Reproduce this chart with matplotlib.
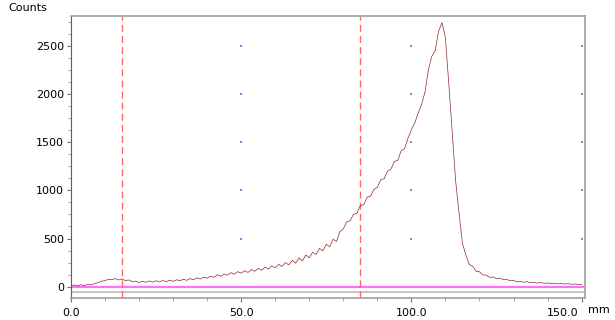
import matplotlib
matplotlib.use('Agg')
import matplotlib.pyplot as plt
import matplotlib.transforms as mtransforms
import numpy as np

# position in mm, one sample per mm
pos_mm = list(range(0, 151))
counts = [
    12, 18, 8, 20, 12, 24, 18, 34, 42, 58,
    62, 78, 74, 84, 70, 80, 64, 70, 52, 58,
    44, 56, 46, 60, 48, 62, 50, 64, 52, 68,
    56, 72, 62, 78, 66, 84, 72, 92, 80, 100,
    88, 110, 98, 124, 108, 132, 120, 146, 130, 156,
    140, 166, 148, 178, 160, 190, 170, 204, 182, 216,
    196, 232, 210, 250, 226, 274, 244, 300, 268, 330,
    300, 358, 336, 398, 372, 440, 414, 492, 470, 570,
    600, 672, 684, 752, 760, 842, 850, 930, 940, 1010,
    1030, 1110, 1120, 1200, 1220, 1300, 1310, 1410, 1430, 1540,
    1630, 1700, 1800, 1890, 2020, 2250, 2390, 2450, 2650, 2740,
    2580, 2100, 1600, 1100, 760, 450, 330, 230, 215, 160,
    155, 122, 120, 98, 100, 84, 90, 74, 76, 62,
    64, 52, 56, 46, 52, 42, 46, 38, 43, 35,
    39, 32, 36, 30, 33, 28, 31, 26, 28, 24,
    25,
]

markers_mm = [15, 85]
baseline = 0
lower_line = -55

x_major = [0, 50, 100, 150]
x_labels = ['0.0', '50.0', '100.0', '150.0']
y_major = [0, 500, 1000, 1500, 2000, 2500]

fig = plt.figure(figsize=(6.15, 3.2), dpi=100)
ax = fig.add_axes([0.1154, 0.06875, 0.8358, 0.88125])

ax.set_xlim(0, 151)
ax.set_ylim(-117, 2808)

# grid dots
gx, gy = np.meshgrid(x_major[1:], y_major)
ax.scatter(gx.ravel(), gy.ravel(), s=1.2, color='#8080ff', marker='s', linewidths=0, zorder=1)

ax.axhline(lower_line, color='#c8c8c8', lw=1.6, zorder=1)
ax.axhline(baseline, color='#ff70ff', lw=1.6, zorder=2)
for m in markers_mm:
    ax.axvline(m, color='#ff6666', lw=1.0, ls=(0, (5, 3)), zorder=2)

ax.plot(pos_mm, counts, color='#8b2a2a', lw=0.5, zorder=3)

ax.set_xticks(x_major)
ax.set_xticklabels(x_labels)
ax.set_xticks(np.arange(0, 151, 10), minor=True)
ax.set_yticks(y_major)
ax.set_yticks(np.arange(0, 2801, 125), minor=True)

ax.tick_params(axis='both', which='major', labelsize=8, color='#707070', length=3, width=0.8, pad=2)
ax.tick_params(axis='both', which='minor', color='#909090', length=2, width=0.6)
ax.tick_params(axis='x', pad=4)

# last x label sits left of its tick, leaving room for the unit
last = ax.get_xticklabels()[-1]
last.set_horizontalalignment('right')
last.set_transform(last.get_transform() + mtransforms.ScaledTranslation(-3 / 100, 0, fig.dpi_scale_trans))

for side in ['top', 'right', 'bottom']:
    ax.spines[side].set_color('#a0a0a0')
    ax.spines[side].set_linewidth(1.2)
ax.spines['left'].set_color('#606060')
ax.spines['left'].set_linewidth(0.8)

fig.text(0.013, 0.975, 'Counts', fontsize=8, va='center', ha='left')
fig.text(0.956, 0.031, 'mm', fontsize=8, va='center', ha='left')

plt.savefig('out.png', dpi=100)
